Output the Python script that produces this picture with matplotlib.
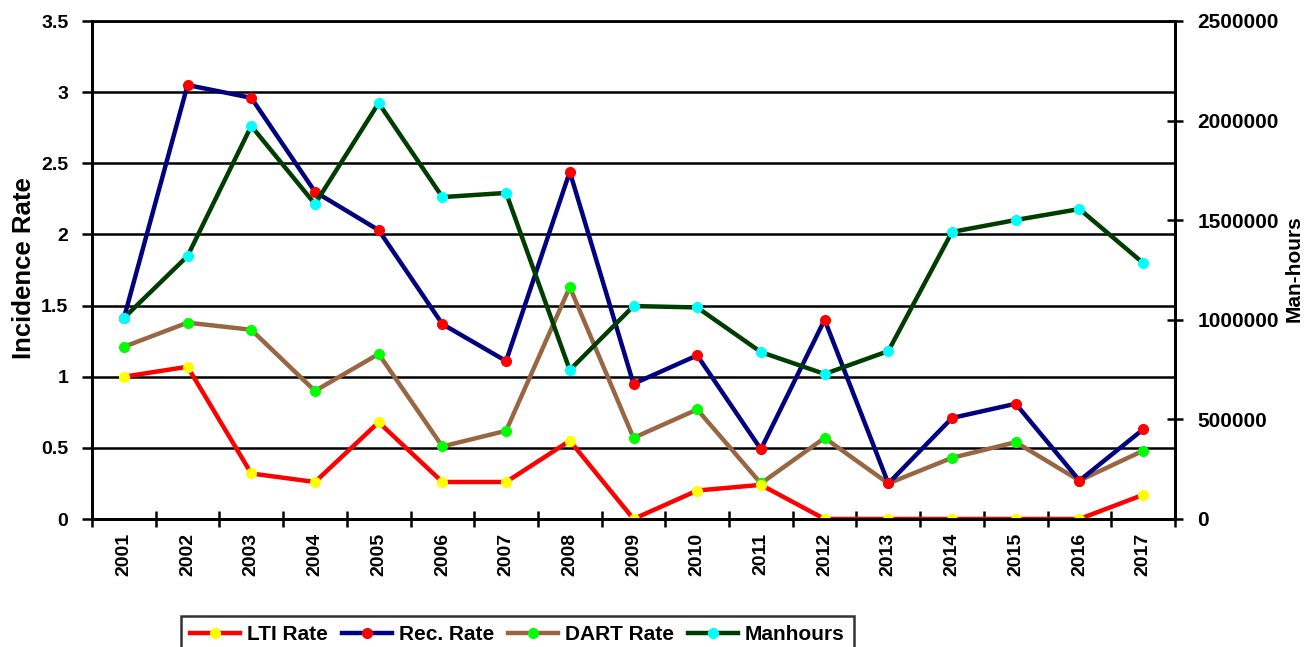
import matplotlib
matplotlib.use("Agg")
import matplotlib.pyplot as plt
import numpy as np

plt.rcParams["font.family"] = ["Liberation Sans", "DejaVu Sans"]
plt.rcParams["font.weight"] = "bold"

years = [str(y) for y in range(2001, 2018)]
lti_rate = [1.0, 1.07, 0.32, 0.26, 0.68, 0.26, 0.26, 0.55, 0.0, 0.20, 0.24,
            0.0, 0.0, 0.0, 0.0, 0.0, 0.17]
rec_rate = [1.41, 3.05, 2.96, 2.30, 2.03, 1.37, 1.11, 2.44, 0.95, 1.15, 0.49,
            1.40, 0.25, 0.71, 0.81, 0.27, 0.63]
dart_rate = [1.21, 1.38, 1.33, 0.90, 1.16, 0.51, 0.62, 1.63, 0.57, 0.77, 0.25,
             0.57, 0.25, 0.43, 0.54, 0.27, 0.48]
manhours = [1009000, 1320000, 1973000, 1581000, 2088000, 1616000, 1637000,
            748000, 1069000, 1062000, 838000, 728000, 843000, 1441000,
            1501000, 1556000, 1285000]

x = np.arange(len(years))

fig = plt.figure(figsize=(13.12, 6.47), dpi=100)
ax = fig.add_axes([92 / 1312, 128 / 647, (1175 - 92) / 1312, (519 - 21) / 647])
ax2 = ax.twinx()

lw = 3.2
ms = 7
h1, = ax.plot(x, lti_rate, color="#ff0000", lw=lw, marker="o", ms=ms,
              mfc="#ffff00", mec="#ffff00", label="LTI Rate", zorder=3)
h2, = ax.plot(x, rec_rate, color="#000080", lw=lw, marker="o", ms=ms,
              mfc="#ff0000", mec="#ff0000", label="Rec. Rate", zorder=3)
h3, = ax.plot(x, dart_rate, color="#996644", lw=lw, marker="o", ms=ms,
              mfc="#00ff00", mec="#00ff00", label="DART Rate", zorder=2)
h4, = ax2.plot(x, manhours, color="#003d00", lw=lw, marker="o", ms=ms,
               mfc="#00ffff", mec="#00ffff", label="Manhours", zorder=3)

ax.set_xlim(-0.5, len(years) - 0.5)
ax.set_ylim(0, 3.5)
ax.set_yticks(np.arange(0, 3.51, 0.5))
ax.set_yticklabels(["0", "0.5", "1", "1.5", "2", "2.5", "3", "3.5"])
ax.yaxis.grid(True, color="black", lw=1.8)
ax.set_axisbelow(True)

ax2.set_ylim(0, 2500000)
ax2.set_yticks(np.arange(0, 2500001, 500000))
ax2.set_yticklabels([str(v) for v in range(0, 2500001, 500000)])

# ticks sit between the years, labels under each year
ax.set_xticks(np.arange(-0.5, len(years), 1.0))
ax.set_xticklabels([])
ax.set_xticks(x, minor=True)
ax.set_xticklabels(years, minor=True, rotation=90)
ax.tick_params(axis="x", which="major", direction="inout", length=12, width=1.8)
ax.tick_params(axis="x", which="minor", length=0, pad=10, labelsize=14)
ax.tick_params(axis="y", direction="out", length=7, width=1.8, labelsize=14, pad=10)
ax2.tick_params(axis="y", direction="inout", length=12, width=1.8, labelsize=15, pad=10)

for a in (ax, ax2):
    for s in a.spines.values():
        s.set_linewidth(2)
        s.set_color("black")
ax2.spines["top"].set_visible(False)

ax.set_ylabel("Incidence Rate", fontsize=18.5, fontweight="bold")
ax.yaxis.set_label_coords((36 - 92) / 1083, 0.503)
ax2.set_ylabel("Man-hours", fontsize=15, fontweight="bold")
ax2.yaxis.set_label_coords((1285 - 92) / 1083, 0.503)

leg = fig.legend(handles=[h1, h2, h3, h4], loc="upper center",
                 bbox_to_anchor=(517.5 / 1312, (647 - 616) / 647), ncol=4,
                 fontsize=15, frameon=True, fancybox=False, handlelength=2.4,
                 handletextpad=0.33, columnspacing=0.67, borderpad=0.45,
                 borderaxespad=0)
leg.get_frame().set_edgecolor("black")
leg.get_frame().set_linewidth(1.8)

fig.savefig("out.png", dpi=100)
